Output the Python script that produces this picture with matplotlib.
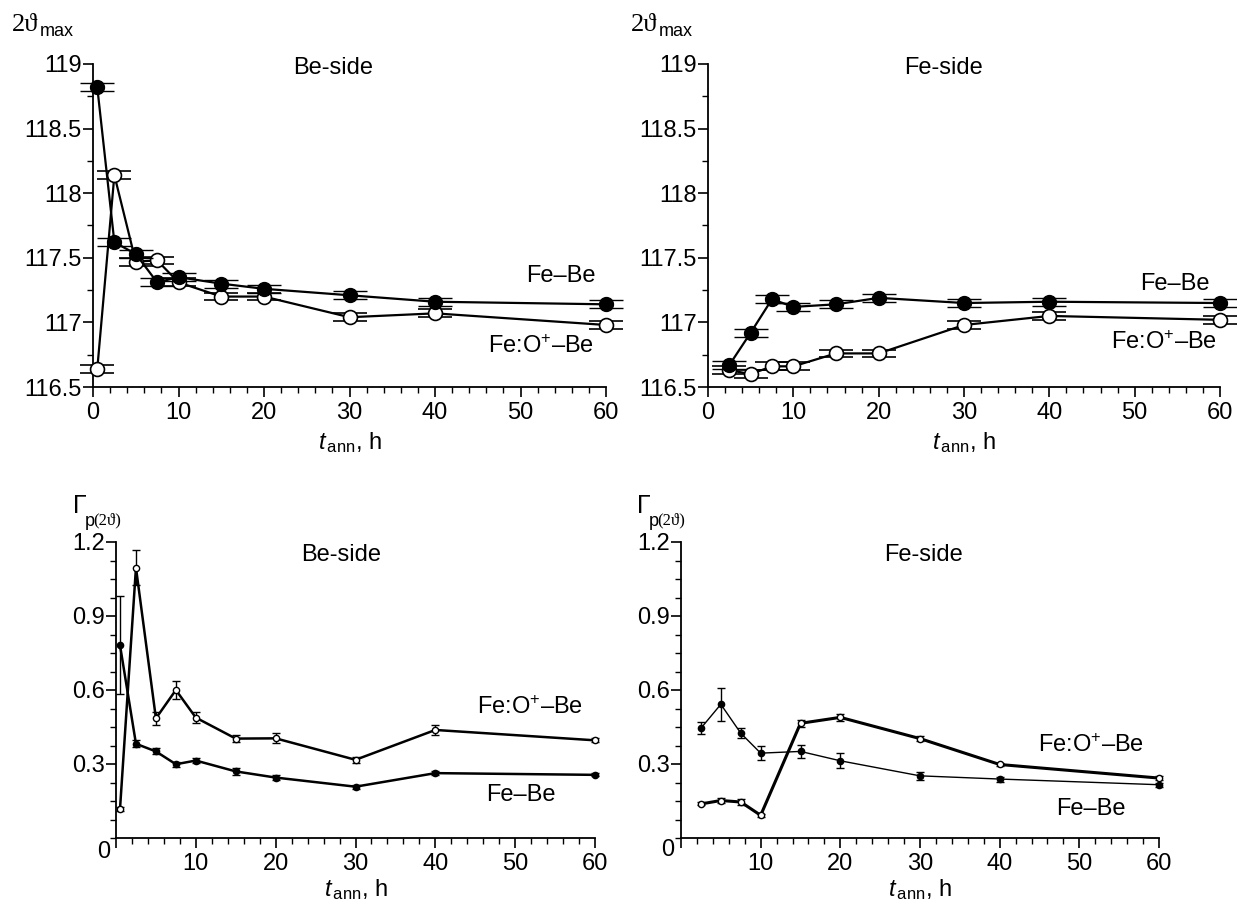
import matplotlib
matplotlib.use('Agg')
import matplotlib.pyplot as plt
from matplotlib.ticker import AutoMinorLocator

plt.rcParams['font.family'] = ['Liberation Sans', 'DejaVu Sans']
plt.rcParams['mathtext.fontset'] = 'custom'
plt.rcParams['mathtext.rm'] = 'Liberation Sans'
plt.rcParams['mathtext.it'] = 'Liberation Sans:italic'

# ---- data: position of the peak maximum 2theta ----
t_be = [0.5, 2.5, 5, 7.5, 10, 15, 20, 30, 40, 60]
max_be_febe = [118.82, 117.62, 117.53, 117.31, 117.35, 117.30, 117.26, 117.21, 117.16, 117.14]
max_be_feo = [116.64, 118.14, 117.47, 117.48, 117.31, 117.20, 117.20, 117.04, 117.07, 116.98]

t_fe = [2.5, 5, 7.5, 10, 15, 20, 30, 40, 60]
max_fe_febe = [116.67, 116.92, 117.18, 117.12, 117.14, 117.19, 117.15, 117.16, 117.15]
max_fe_feo = [116.63, 116.60, 116.66, 116.66, 116.76, 116.76, 116.98, 117.05, 117.02]
max_err = 0.03

# ---- data: peak width Gamma ----
w_be_febe = [0.782, 0.382, 0.351, 0.299, 0.314, 0.270, 0.245, 0.208, 0.263, 0.256]
w_be_febe_err = [0.20, 0.015, 0.012, 0.010, 0.010, 0.015, 0.010, 0.008, 0.008, 0.006]
w_be_feo = [0.117, 1.096, 0.485, 0.600, 0.488, 0.403, 0.404, 0.317, 0.438, 0.396]
w_be_feo_err = [0.008, 0.07, 0.025, 0.035, 0.022, 0.015, 0.020, 0.012, 0.020, 0.008]

w_fe_febe = [0.445, 0.542, 0.425, 0.344, 0.351, 0.313, 0.252, 0.239, 0.216]
w_fe_febe_err = [0.025, 0.068, 0.020, 0.028, 0.025, 0.030, 0.015, 0.010, 0.008]
w_fe_feo = [0.138, 0.152, 0.146, 0.092, 0.465, 0.489, 0.403, 0.298, 0.243]
w_fe_feo_err = [0.006, 0.010, 0.012, 0.006, 0.015, 0.015, 0.010, 0.008, 0.008]

W, H = 1237, 901
FS = 17
fig = plt.figure(figsize=(W / 100, H / 100), dpi=100)


def px_axes(x0, x1, y0, y1):
    """axes from pixel box (x0..x1, top y0 .. bottom y1)"""
    return fig.add_axes([x0 / W, 1 - y1 / H, (x1 - x0) / W, (y1 - y0) / H])


def ftxt(x, y, s, **kw):
    kw.setdefault('ha', 'center')
    kw.setdefault('va', 'center')
    kw.setdefault('fontsize', FS)
    fig.text(x / W, 1 - y / H, s, **kw)


def style(ax, minor_y):
    for side in ('top', 'right'):
        ax.spines[side].set_visible(False)
    ax.spines['left'].set_linewidth(1.3)
    ax.spines['bottom'].set_linewidth(1.3)
    ax.set_xlim(0, 60)
    ax.xaxis.set_minor_locator(AutoMinorLocator(5))
    ax.yaxis.set_minor_locator(AutoMinorLocator(minor_y))
    ax.tick_params(which='major', direction='out', length=7, width=1.2, labelsize=FS)
    ax.tick_params(axis='y', which='major', pad=1)
    ax.tick_params(which='minor', direction='out', length=4, width=1.0)


xlabel = r'$t_{\,\mathrm{ann}}$, h'

# ---- top row ----
ax1 = px_axes(93, 606, 64, 387)
ax2 = px_axes(708, 1220, 64, 387)
for ax, t, fb, fo in ((ax1, t_be, max_be_febe, max_be_feo),
                      (ax2, t_fe, max_fe_febe, max_fe_feo)):
    ax.errorbar(t, fo, yerr=max_err, fmt='-o', color='black', mfc='white',
                mec='black', ms=10, mew=1.2, lw=1.6, capsize=12, elinewidth=1.0,
                capthick=1.0, clip_on=False, zorder=3)
    ax.errorbar(t, fb, yerr=max_err, fmt='-o', color='black', mfc='black',
                ms=10, lw=1.6, capsize=12, elinewidth=1.0, capthick=1.0,
                clip_on=False, zorder=4)
    ax.set_ylim(116.5, 119)
    ax.set_yticks([116.5, 117, 117.5, 118, 118.5, 119])
    ax.set_yticklabels(['116.5', '117', '117.5', '118', '118.5', '119'])
    ax.set_xticks(range(0, 61, 10))
    style(ax, 2)
    ax.set_xlabel(xlabel, fontsize=FS, labelpad=5)

ftxt(333, 68, 'Be-side')
ftxt(561, 276, 'Fe–Be')
ftxt(541, 347, r'Fe:O$^{\mathrm{+}}$–Be')
ftxt(944, 68, 'Fe-side')
ftxt(1175, 284, 'Fe–Be')
ftxt(1164, 343, r'Fe:O$^{\mathrm{+}}$–Be')

for x0 in (12, 631):
    fig.text(x0 / W, 1 - 25 / H, '2ϑ', family=['Liberation Serif', 'DejaVu Serif'],
             fontsize=19, ha='left', va='center')
    fig.text((x0 + 28) / W, 1 - 32 / H, 'max', fontsize=13, ha='left', va='center')

# ---- bottom row ----
ax3 = px_axes(116, 595, 542, 838)
ax4 = px_axes(681, 1159, 542, 838)

ax3.errorbar(t_be, w_be_feo, yerr=w_be_feo_err, fmt='-o', color='black',
             mfc='white', mec='black', ms=4.5, mew=1.0, lw=1.8, capsize=3,
             elinewidth=1.0, clip_on=False, zorder=3)
ax3.errorbar(t_be, w_be_febe, yerr=w_be_febe_err, fmt='-o', color='black',
             mfc='black', ms=4.5, lw=1.8, capsize=3, elinewidth=1.0,
             clip_on=False, zorder=4)

ax4.errorbar(t_fe, w_fe_feo, yerr=w_fe_feo_err, fmt='-o', color='black',
             mfc='white', mec='black', ms=4.5, mew=1.0, lw=2.2, capsize=3,
             elinewidth=1.0, clip_on=False, zorder=3)
ax4.errorbar(t_fe, w_fe_febe, yerr=w_fe_febe_err, fmt='-o', color='black',
             mfc='black', ms=4.5, lw=1.0, capsize=3, elinewidth=1.0,
             clip_on=False, zorder=4)

for ax in (ax3, ax4):
    ax.set_ylim(0, 1.2)
    ax.set_yticks([0.3, 0.6, 0.9, 1.2])
    ax.set_yticklabels(['0.3', '0.6', '0.9', '1.2'])
    ax.set_xticks(range(0, 61, 10))
    ax.set_xticklabels([''] + [str(v) for v in range(10, 61, 10)])
    style(ax, 4)
    ax.set_xlabel(xlabel, fontsize=FS, labelpad=2)

ftxt(104, 852, '0')
ftxt(668, 850, '0')
ftxt(341, 555, 'Be-side')
ftxt(530, 708, r'Fe:O$^{\mathrm{+}}$–Be')
ftxt(521, 795, 'Fe–Be')
ftxt(923, 555, 'Fe-side')
ftxt(1091, 746, r'Fe:O$^{\mathrm{+}}$–Be')
ftxt(1091, 809, 'Fe–Be')

for x0 in (73, 637):
    fig.text(x0 / W, 1 - 506 / H, 'Γ', fontsize=18, ha='left', va='center')
    fig.text((x0 + 12) / W, 1 - 521 / H, 'p', fontsize=13, ha='left', va='center')
    fig.text((x0 + 20) / W, 1 - 520 / H, '(2ϑ)', family=['Liberation Serif', 'DejaVu Serif'],
             fontsize=12, ha='left', va='center')

fig.savefig('out.png', dpi=100)
